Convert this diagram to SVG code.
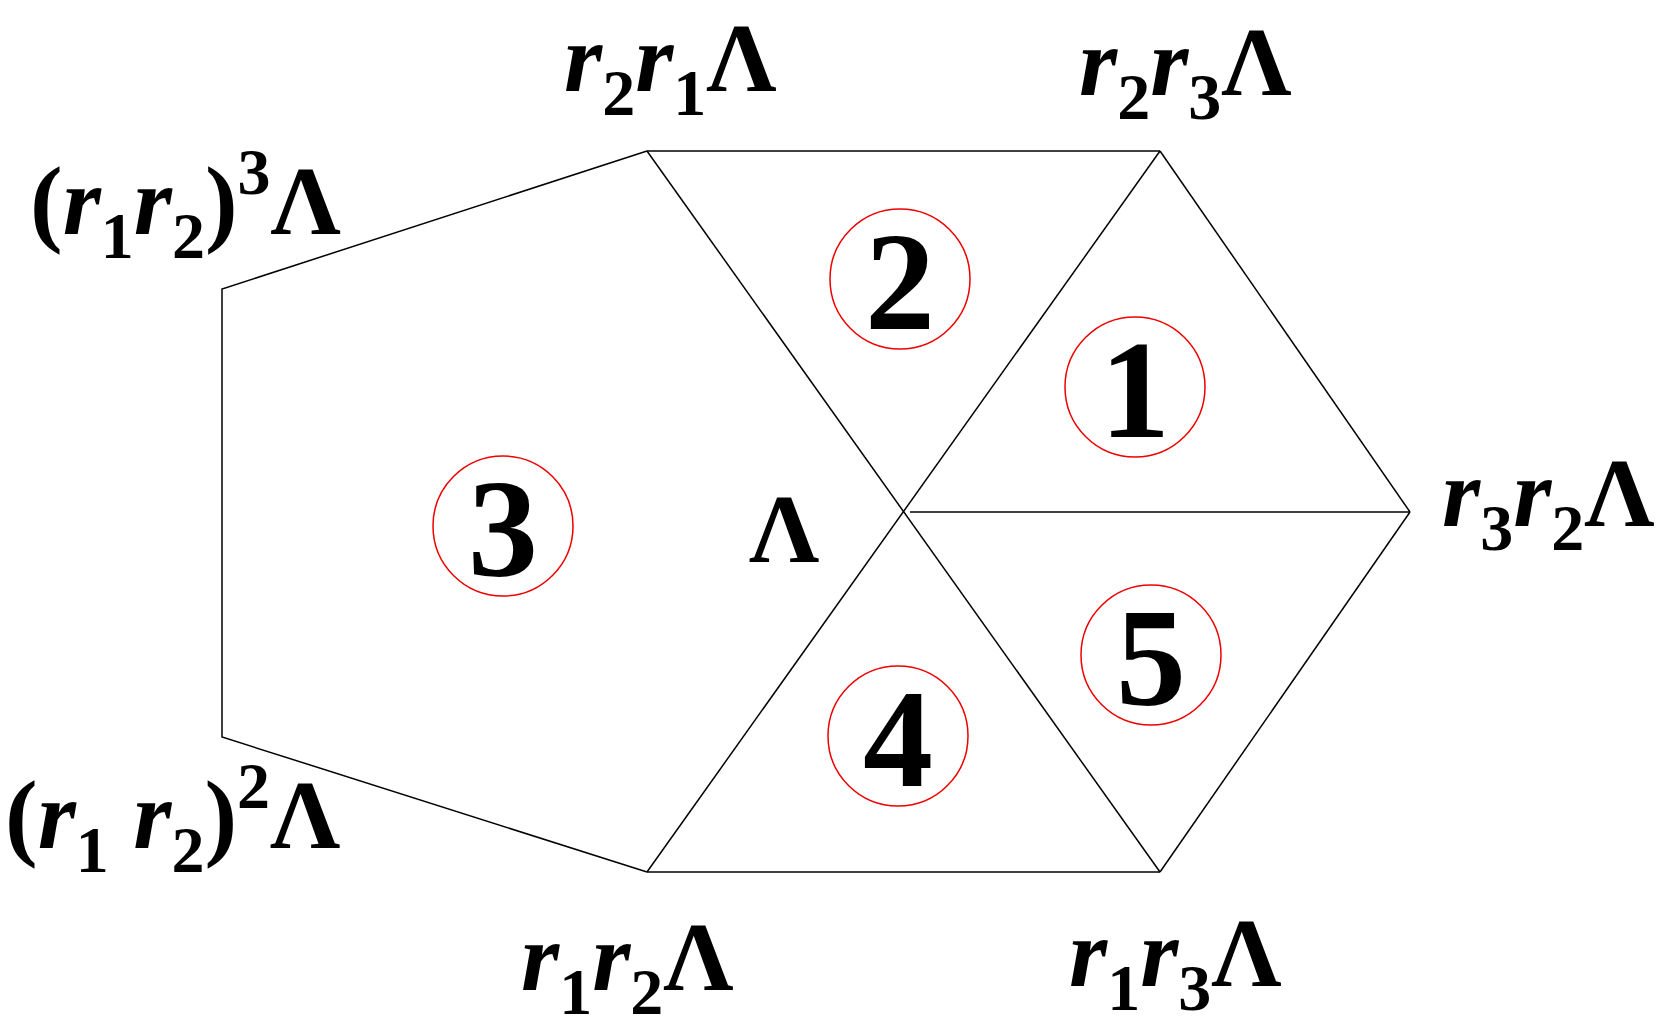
<svg xmlns="http://www.w3.org/2000/svg" width="1676" height="1028" viewBox="0 0 1676 1028">
<style>
.e{stroke:#000;stroke-width:1.5;fill:none}
.c{fill:none;stroke:#e00;stroke-width:1.5}
.d{font-family:"Liberation Serif",serif;font-weight:bold;font-size:140px;text-anchor:middle}
.l{font-family:"Liberation Serif",serif;font-weight:bold;font-size:98px}
.i{font-style:italic}
.s{font-size:66px;font-style:normal}
</style>
<rect width="1676" height="1028" fill="#fff"/>
<g id="edges">
<polyline class="e" points="647,151 222,289 222,737 647,872"/>
<line class="e" x1="647" y1="151" x2="1160" y2="151"/>
<line class="e" x1="647" y1="872" x2="1160" y2="872"/>
<line class="e" x1="1160" y1="151" x2="1410" y2="512"/>
<line class="e" x1="1410" y1="512" x2="1160" y2="872"/>
<line class="e" x1="647" y1="151" x2="1160" y2="872"/>
<line class="e" x1="1160" y1="151" x2="647" y2="872"/>
<line class="e" x1="910" y1="512" x2="1410" y2="512"/>
</g>
<g id="n1"><circle class="c" cx="1135" cy="387" r="70"/><text class="d" x="1135" y="437">1</text></g>
<g id="n2"><circle class="c" cx="900" cy="279" r="70"/><text class="d" x="900" y="329">2</text></g>
<g id="n3"><circle class="c" cx="503" cy="526" r="70"/><text class="d" x="503" y="576">3</text></g>
<g id="n4"><circle class="c" cx="898" cy="736" r="70"/><text class="d" x="898" y="786">4</text></g>
<g id="n5"><circle class="c" cx="1151" cy="655" r="70"/><text class="d" x="1151" y="705">5</text></g>
<g id="labels">
<text class="l" x="564" y="91"><tspan class="i">r</tspan><tspan class="s" dy="24">2</tspan><tspan class="i" dy="-24">r</tspan><tspan class="s" dy="24">1</tspan><tspan dy="-24">Λ</tspan></text>
<text class="l" x="1079" y="95"><tspan class="i">r</tspan><tspan class="s" dy="24">2</tspan><tspan class="i" dy="-24">r</tspan><tspan class="s" dy="24">3</tspan><tspan dy="-24">Λ</tspan></text>
<text class="l" x="30" y="234">(<tspan class="i">r</tspan><tspan class="s" dy="24">1</tspan><tspan class="i" dy="-24">r</tspan><tspan class="s" dy="24">2</tspan><tspan dy="-24">)</tspan><tspan class="s" dy="-40">3</tspan><tspan dy="40">Λ</tspan></text>
<text class="l" x="1442" y="526"><tspan class="i">r</tspan><tspan class="s" dy="24">3</tspan><tspan class="i" dy="-24">r</tspan><tspan class="s" dy="24">2</tspan><tspan dy="-24">Λ</tspan></text>
<text class="l" x="749" y="562">Λ</text>
<text class="l" x="5" y="848">(<tspan class="i">r</tspan><tspan class="s" dy="24">1</tspan><tspan class="i" dy="-24"> r</tspan><tspan class="s" dy="24">2</tspan><tspan dy="-24">)</tspan><tspan class="s" dy="-40">2</tspan><tspan dy="40">Λ</tspan></text>
<text class="l" x="521" y="990"><tspan class="i">r</tspan><tspan class="s" dy="24">1</tspan><tspan class="i" dy="-24">r</tspan><tspan class="s" dy="24">2</tspan><tspan dy="-24">Λ</tspan></text>
<text class="l" x="1069" y="986"><tspan class="i">r</tspan><tspan class="s" dy="24">1</tspan><tspan class="i" dy="-24">r</tspan><tspan class="s" dy="24">3</tspan><tspan dy="-24">Λ</tspan></text>
</g>
</svg>
